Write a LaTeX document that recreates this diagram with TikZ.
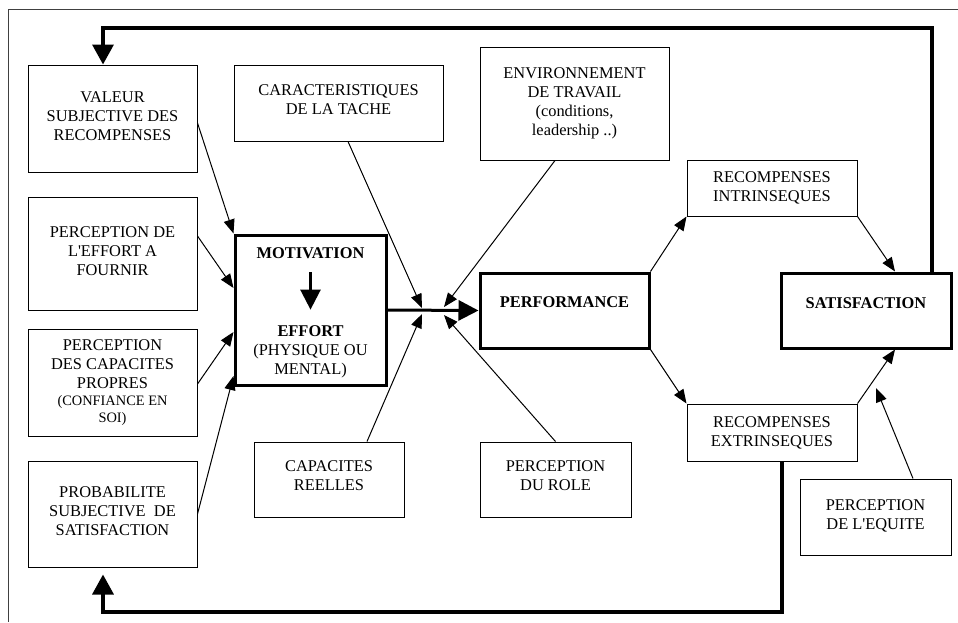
\documentclass[tikz,border=0pt]{standalone}
\usepackage{fontspec}
\setmainfont{Liberation Serif}[Ligatures=TeXOff]
\usetikzlibrary{arrows.meta,calc}
\newcommand\smallf{\fontsize{14.4pt}{17pt}\selectfont}
\newcommand\dpt[1]{\rule[-#1]{0pt}{#1}}
\begin{document}
\begin{tikzpicture}[x=1pt,y=-1pt,
  every node/.style={font=\fontsize{16.4pt}{19pt}\selectfont, inner sep=0pt, align=center},
  box/.style={draw, line width=1pt},
  bigbox/.style={draw, line width=3pt},
  thinarrow/.style={line width=1pt, -{Triangle[length=14pt,width=11pt]}},
  thickarrow/.style={line width=3pt, -{Triangle[length=20pt,width=20pt]}},
  feedback/.style={line width=3.5pt, -{Triangle[length=20pt,width=21pt]}},
]
\fill[white] (0,0) rectangle (958,622);
\useasboundingbox (0,0) rectangle (958,622);
% frame
\draw[line width=1pt, black!75] (958,9.5) -- (8,9.5) -- (8,622);

% left column
\node[box, minimum width=169pt, minimum height=107pt] (valeur) at (112.5,118.5) {VALEUR\\SUBJECTIVE DES\\RECOMPENSES\dpt{5pt}};
\node[box, minimum width=169pt, minimum height=113pt] (peffort) at (112.5,253.5) {PERCEPTION DE\\L'EFFORT A\\FOURNIR\dpt{5pt}};
\node[box, minimum width=169pt, minimum height=107pt] (pcap) at (112.5,382.5) {PERCEPTION\\DES CAPACITES\\PROPRES\\[-2pt]{\smallf (CONFIANCE EN}\\[-2pt]{\smallf SOI)}};
\node[box, minimum width=169pt, minimum height=106pt] (proba) at (112.5,514) {PROBABILITE\\SUBJECTIVE~~DE\\SATISFACTION\dpt{6pt}};

% middle
\node[box, minimum width=209pt, minimum height=76pt] (carac) at (338.5,103) {CARACTERISTIQUES\\DE LA TACHE\dpt{7pt}};
\node[bigbox, minimum width=151pt, minimum height=150pt] (mot) at (310.5,310) {};
\node (motlbl) at (310.5,253) {\bfseries MOTIVATION};
\node (efflbl) at (310.5,351.5) {\textbf{EFFORT}\\(PHYSIQUE OU\\MENTAL)};
\node[box, minimum width=150pt, minimum height=75pt] (capr) at (329,479.5) {CAPACITES\\REELLES\dpt{7pt}};

\node[box, minimum width=189pt, minimum height=113pt] (env) at (574.5,103.5) {ENVIRONNEMENT\\DE TRAVAIL\\(conditions,\\leadership ..)};
\node[bigbox, minimum width=169pt, minimum height=75pt] (perf) at (564.5,310.5) {\textbf{PERFORMANCE}\dpt{17pt}};
\node[box, minimum width=151pt, minimum height=75pt] (prole) at (555.5,479.5) {PERCEPTION\\DU ROLE\dpt{7pt}};

% right
\node[box, minimum width=170pt, minimum height=56pt] (rint) at (772,188) {RECOMPENSES\\INTRINSEQUES};
\node[box, minimum width=170pt, minimum height=57pt] (rext) at (772,432.5) {RECOMPENSES\\EXTRINSEQUES};
\node[bigbox, minimum width=170pt, minimum height=75pt] (sat) at (866,310.5) {\textbf{SATISFACTION}\dpt{15pt}};
\node[box, minimum width=151pt, minimum height=76pt] (equ) at (875.5,517) {PERCEPTION\\DE L'EQUITE\dpt{4pt}};

% free ends
\coordinate (ja) at (422,308);
\coordinate (jb) at (422,314);
\coordinate (ka) at (444,307);
\coordinate (kb) at (444,315);
\coordinate (eqt) at (876,388);
\coordinate (fbtop) at (103,28);
\coordinate (fbbot) at (103,612);

% inner arrow
\draw[line width=2.5pt, -{Triangle[length=20pt,width=20pt]}, shorten <=13.6pt, shorten >=15.5pt] (motlbl.south) -- (efflbl.north);

% inputs to motivation
\draw[thinarrow] ($(valeur.east)+(0,4.5)$) -- (mot.north west);
\draw[thinarrow] ($(peffort.east)+(0,-17.5)$) -- ($(mot.west)+(0,-22)$);
\draw[thinarrow] ($(pcap.east)+(0,1.5)$) -- ($(mot.west)+(0,22)$);
\draw[thinarrow] (proba.east) -- ($(mot.west)+(0,66)$);

% converging arrows
\draw[thinarrow] ($(carac.south)+(9.5,0)$) -- (ja);
\draw[thinarrow] ($(capr.north)+(38,0)$) -- (jb);
\draw[thinarrow] ($(env.south)+(-19.5,0)$) -- (ka);
\draw[thinarrow] (prole.north) -- (kb);

% motivation -> performance
\draw[thickarrow] (mot.east) -- (perf.west);

% performance -> rewards -> satisfaction
\draw[thinarrow] (perf.north east) -- (rint.south west);
\draw[thinarrow] (perf.south east) -- (rext.north west);
\draw[thinarrow] (rint.south east) -- ($(sat.north)+(29,0)$);
\draw[thinarrow] (rext.north east) -- ($(sat.south)+(29,0)$);
\draw[thinarrow] ($(equ.north)+(37.5,0)$) -- (eqt);

% feedback loops
\draw[feedback] ($(sat.north)+(66,0)$) |- (fbtop) -- ($(valeur.north)+(-9.5,0)$);
\draw[feedback] ($(rext.south)+(10,0)$) |- (fbbot) -- ($(proba.south)+(-9.5,7)$);
\end{tikzpicture}
\end{document}
